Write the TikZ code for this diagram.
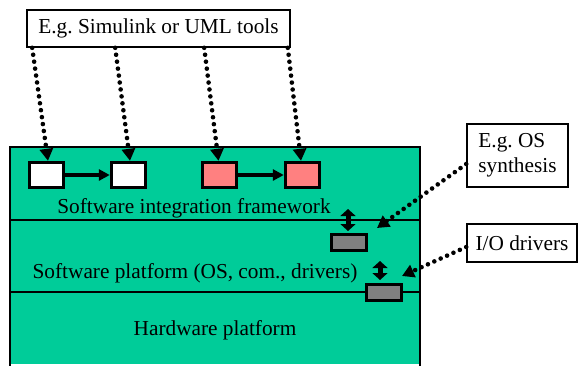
\documentclass[tikz,border=0pt]{standalone}
\usepackage{fontspec}
\setmainfont{Liberation Serif}
\usetikzlibrary{arrows.meta}
\definecolor{layergreen}{RGB}{0,204,153}
\definecolor{comppink}{RGB}{255,128,128}
\definecolor{compgray}{RGB}{128,128,128}
\begin{document}
\begin{tikzpicture}[x=1pt,y=-1pt,
  every node/.style={font=\fontsize{21.3}{25}\selectfont, inner sep=0pt},
  labelbox/.style={draw, line width=1.6pt, fill=white},
  comp/.style={draw, line width=3.4pt, minimum width=34pt, minimum height=25pt},
  gcomp/.style={draw, line width=3.4pt, fill=compgray, minimum width=35pt, minimum height=16pt},
  dotarrow/.style={line width=4.6pt, line cap=round, dash pattern=on 0pt off 7pt, -{Triangle[width=13pt,length=12pt]}},
  solidarrow/.style={line width=3.2pt, -{Triangle[width=11pt,length=11pt]}},
  dblarrow/.style={line width=5pt, {Triangle[width=15pt,length=7pt]}-{Triangle[width=15pt,length=7pt]}},
  layer/.style={draw, line width=2.2pt}]
\useasboundingbox (0,0) rectangle (578,365);
% main layered rectangle
\fill[layergreen] (10,147) rectangle (420,364);
\draw[layer] (10,220) -- (420,220);
\draw[layer] (10,292) -- (420,292);
\draw[layer] (10,366) -- (10,147) -- (420,147) -- (420,366);
% layer labels
\node (sif) at (194,208) {Software integration framework};
\node (swp) at (195,273) {Software platform (OS, com., drivers)};
\node (hwp) at (215,330) {Hardware platform};
% components
\node[comp, fill=white] (b1) at (46.5,175) {};
\node[comp, fill=white] (b2) at (128.5,175) {};
\node[comp, fill=comppink] (b3) at (219.5,175) {};
\node[comp, fill=comppink] (b4) at (302.5,175) {};
\draw[solidarrow] (b1) -- (b2);
\draw[solidarrow] (b3) -- (b4);
\node[gcomp] (g1) at (349,242.5) {};
\node[gcomp] (g2) at (384,292.5) {};
% double arrows
\coordinate (d1a) at (348,209);
\coordinate (d1b) at (348,231);
\coordinate (d2a) at (380,261);
\coordinate (d2b) at (380,280);
\draw[dblarrow] (d1a) -- (d1b);
\draw[dblarrow] (d2a) -- (d2b);
% label boxes
\node[labelbox, minimum width=263pt, minimum height=37pt] (tool) at (158.5,28.5) {E.g.\ Simulink or UML tools};
\node[labelbox, minimum width=101pt, minimum height=63pt, align=left] (os) at (517.5,155.5) {E.g.\ OS\\synthesis};
\node[labelbox, minimum width=110pt, minimum height=38pt] (io) at (522,243) {I/O drivers};
% dotted connectors
\draw[dotarrow] ([xshift=6pt]tool.south west) -- ([xshift=1.5pt]b1.north);
\draw[dotarrow] ([xshift=89pt]tool.south west) -- ([xshift=1.5pt]b2.north);
\draw[dotarrow] ([xshift=178pt]tool.south west) -- ([xshift=-1pt]b3.north);
\draw[dotarrow] ([xshift=-3pt]tool.south east) -- ([xshift=-1.5pt]b4.north);
\coordinate (osend) at (377,228);
\coordinate (ioend) at (402,276);
\draw[dotarrow] ([yshift=-8.5pt]os.west) -- (osend);
\draw[dotarrow] ([yshift=-4pt]io.west) -- (ioend);
\end{tikzpicture}
\end{document}
